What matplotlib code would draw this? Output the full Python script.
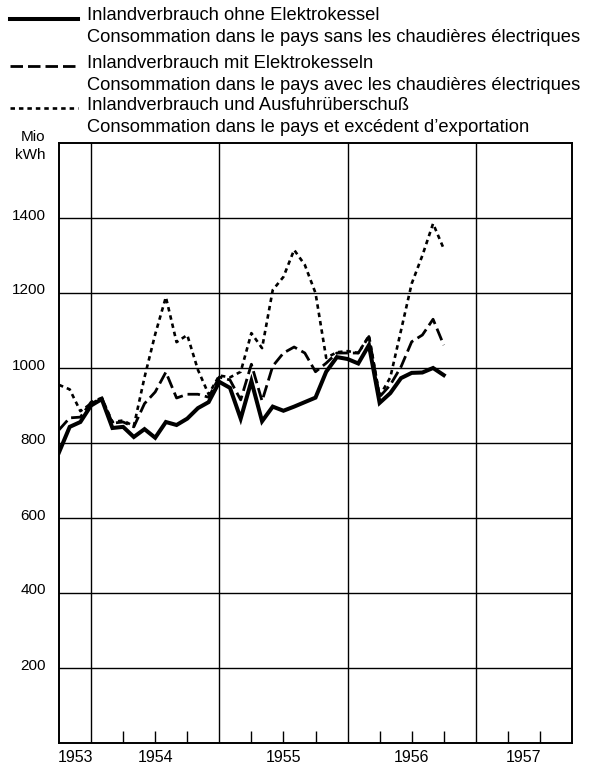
import numpy as np
import matplotlib
matplotlib.use("Agg")
import matplotlib.pyplot as plt
from matplotlib.lines import Line2D
import matplotlib.transforms as mtransforms

plt.rcParams['font.family'] = ['Liberation Sans', 'DejaVu Sans']

# monthly values, Mio kWh, starting Oct 1953
ohne_kessel = [775, 843, 856, 900, 917, 840, 843, 816, 837, 814, 856, 848,
               865, 893, 909, 963, 947, 865, 965, 858, 897, 886, 897, 909,
               921, 990, 1029, 1024, 1012, 1061, 907, 933, 973, 987, 988,
               1000, 981]
mit_kessel = [835, 867, 869, 909, 920, 853, 856, 843, 905, 936, 989, 920,
              930, 930, 922, 976, 968, 915, 1010, 912, 1005, 1040, 1056, 1040,
              990, 1013, 1040, 1040, 1040, 1084, 923, 955, 1003, 1070, 1088,
              1130, 1061]
mit_ausfuhr = [955, 943, 885, 905, 920, 856, 860, 845, 975, 1090, 1189, 1069,
               1088, 995, 930, 980, 975, 990, 1093, 1053, 1208, 1243, 1315, 1275,
               1200, 1027, 1042, 1045, 1040, 1086, 925, 975, 1100, 1225, 1300,
               1385, 1318]

years = ['1953', '1954', '1955', '1956', '1957']
year_edges = [0, 3, 15, 27, 39, 48]   # months since Oct 1953
quarter_ticks = [6, 9, 12, 18, 21, 24, 30, 33, 36, 42, 45]
y_ticks = [200, 400, 600, 800, 1000, 1200, 1400]

legend_labels = [
    ('Inlandverbrauch ohne Elektrokessel',
     'Consommation dans le pays sans les chaudières électriques'),
    ('Inlandverbrauch mit Elektrokesseln',
     'Consommation dans le pays avec les chaudières électriques'),
    ('Inlandverbrauch und Ausfuhrüberschuß',
     "Consommation dans le pays et excédent d\u2019exportation"),
]

styles = [
    dict(color='black', lw=2.9, linestyle='-', solid_joinstyle='miter'),
    dict(color='black', lw=2.0, linestyle=(0, (4.5, 1.8))),
    dict(color='black', lw=1.9, linestyle=(0, (1.7, 1.5))),
]

W, H = 593, 769
fig = plt.figure(figsize=(W / 100, H / 100), dpi=100)
ax = fig.add_axes([59 / W, 1 - 743 / H, (572 - 59) / W, (743 - 143) / H])

months = np.arange(len(ohne_kessel))
for vals, st in zip([mit_ausfuhr, mit_kessel, ohne_kessel], styles[::-1]):
    ax.plot(months, vals, **st)

ax.set_xlim(year_edges[0], year_edges[-1])
ax.set_ylim(0, 1600)

for e in year_edges[1:-1]:
    ax.axvline(e, color='black', lw=1.0)
for v in y_ticks:
    ax.axhline(v, color='black', lw=1.0)

for s in ax.spines.values():
    s.set_linewidth(1.4)

ax.set_xticks(quarter_ticks)
ax.tick_params(axis='x', direction='in', length=9, width=1.0, labelbottom=False)
ax.set_yticks(y_ticks)
ax.set_yticklabels([str(v) for v in y_ticks], fontsize=11)
ax.tick_params(axis='y', length=0, pad=9.5)
offset = mtransforms.ScaledTranslation(0, 4 / 100, fig.dpi_scale_trans)
for lab in ax.get_yticklabels():
    lab.set_transform(lab.get_transform() + offset)

for i, yr in enumerate(years):
    mid = (year_edges[i] + year_edges[i + 1]) / 2
    ax.text(mid, -0.011, yr, transform=ax.get_xaxis_transform(),
            ha='center', va='top', fontsize=11.5)

fig.text(45 / W, 1 - 137 / H, 'Mio', ha='right', va='center', fontsize=11)
fig.text(45 / W, 1 - 155 / H, 'kWh', ha='right', va='center', fontsize=11)

# legend
rows = [(16, 37, 19), (64, 85, 66), (106, 127, 108)]
for (t1, t2, ly), (l1, l2), st in zip(rows, legend_labels, styles):
    fig.add_artist(Line2D([10 / W, 78 / W], [1 - ly / H] * 2,
                          transform=fig.transFigure, **st))
    fig.text(87 / W, 1 - t1 / H, l1, ha='left', va='center', fontsize=13.2)
    fig.text(87 / W, 1 - t2 / H, l2, ha='left', va='center', fontsize=13.2)

fig.savefig('out.png', dpi=100)
